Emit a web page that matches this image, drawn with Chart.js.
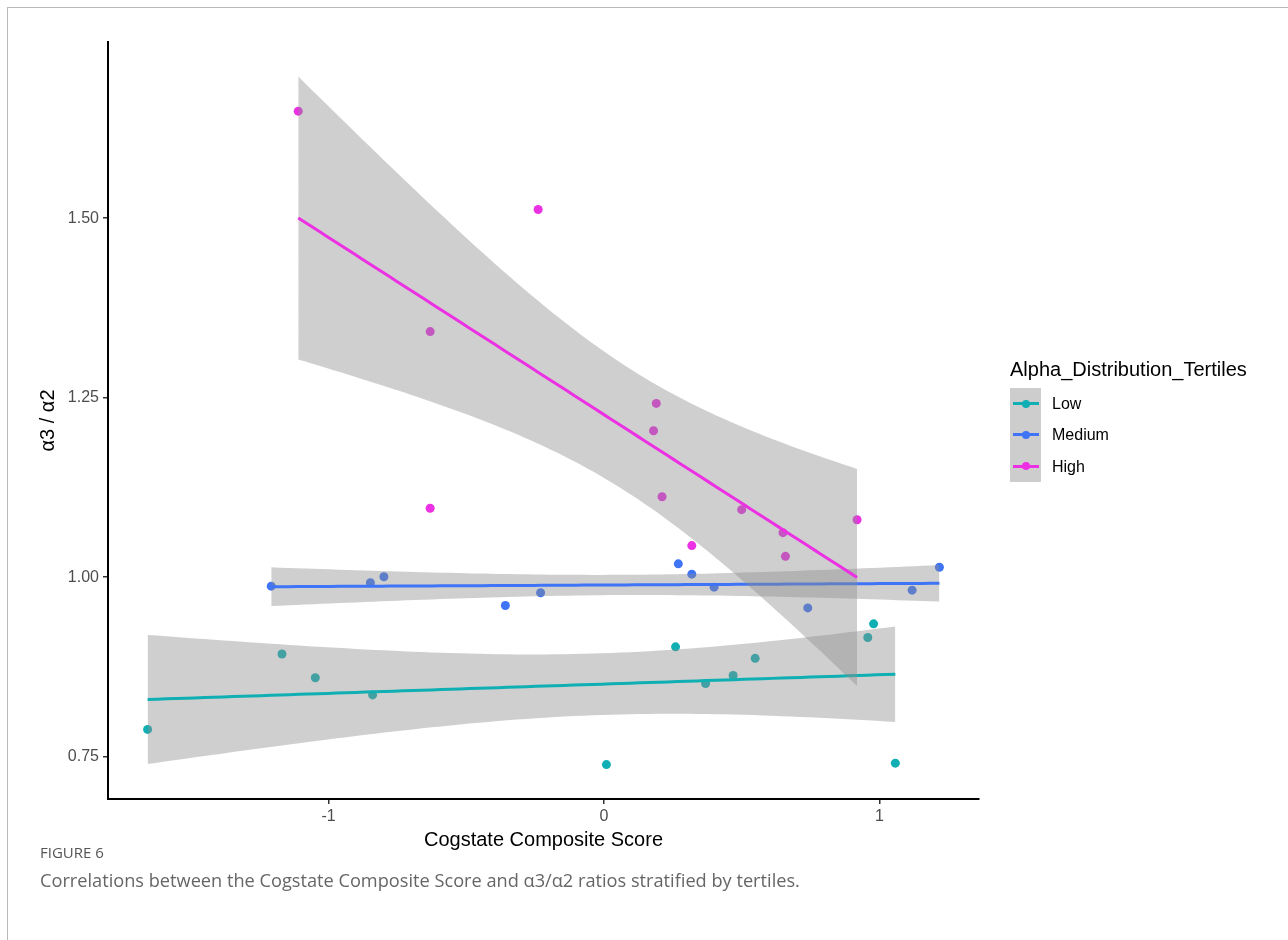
<!DOCTYPE html>
<html>
<head>
<meta charset="utf-8">
<script src="https://cdn.jsdelivr.net/npm/chart.js@4.4.1/dist/chart.umd.min.js"></script>
<style>
  html, body { margin: 0; padding: 0; background: #fff; }
  #wrap { position: relative; width: 1288px; height: 940px; overflow: hidden; }
  #frame { position: absolute; left: 7px; top: 7px; right: -20px; bottom: -20px;
           border-left: 1px solid #b9b9b9; border-top: 1px solid #b9b9b9; }
  #chart { position: absolute; left: 0; top: 0; }
  #legend { position: absolute; left: 1010px; top: 357px; font-family: "Liberation Sans", Arial, sans-serif; color: #000; }
  #legend .title { font-size: 20px; line-height: 24px; white-space: nowrap; }
  #legend .keys { position: relative; margin-top: 7px; }
  #legend .row { position: relative; height: 31.3px; }
  #legend .key { position: absolute; left: 0; top: 0; width: 31px; height: 31.3px; background: #cdcdcd; }
  #legend .line { position: absolute; left: 3px; top: 14px; width: 26px; height: 3px; }
  #legend .dot { position: absolute; left: 11.5px; top: 11.5px; width: 8px; height: 8px; border-radius: 50%; }
  #legend .label { position: absolute; left: 42px; top: 0; line-height: 31.3px; font-size: 16px; white-space: nowrap; }
  #fig-label { position: absolute; left: 40px; top: 842px; font-family: "Open Sans", Lato, sans-serif;
               font-size: 15px; line-height: 20px; color: #555; }
  #fig-caption { position: absolute; left: 40px; top: 867px; font-family: "Open Sans", Lato, sans-serif;
                 font-size: 18.2px; line-height: 26px; color: #666; white-space: nowrap; }
</style>
</head>
<body>
<div id="wrap">
  <div id="frame"></div>
  <canvas id="chart" width="1288" height="940"></canvas>
  <div id="legend"></div>
  <div id="fig-label">FIGURE 6</div>
  <div id="fig-caption">Correlations between the Cogstate Composite Score and α3/α2 ratios stratified by tertiles.</div>
</div>
<script>
// Cogstate composite score (x) and alpha3/alpha2 ratio (y), one pair of arrays per tertile
const GROUPS = ['Low', 'Medium', 'High'];

const LOW_X = [-1.657, -1.169, -1.048, -0.840, 0.009, 0.260, 0.369, 0.469, 0.549, 0.958, 0.979, 1.058];
const LOW_Y = [0.788, 0.893, 0.860, 0.836, 0.739, 0.903, 0.852, 0.863, 0.887, 0.916, 0.935, 0.741];

const MEDIUM_X = [-1.208, -0.848, -0.799, -0.358, -0.230, 0.270, 0.319, 0.400, 0.740, 1.119, 1.218];
const MEDIUM_Y = [0.9875, 0.9922, 1.0006, 0.9606, 0.9783, 1.0186, 1.0042, 0.9861, 0.9572, 0.9819, 1.0139];

const HIGH_X = [-1.110, -0.239, -0.631, -0.631, 0.190, 0.180, 0.211, 0.319, 0.500, 0.650, 0.659, 0.919];
const HIGH_Y = [1.649, 1.512, 1.342, 1.096, 1.242, 1.204, 1.112, 1.044, 1.094, 1.062, 1.029, 1.080];

const X_TICKS = [-1, 0, 1];
const Y_TICKS = [0.75, 1.00, 1.25, 1.50];

const X_TITLE = 'Cogstate Composite Score';
const Y_TITLE = 'α3 / α2';
const LEGEND_TITLE = 'Alpha_Distribution_Tertiles';

const SERIES = {
  Low:    { xs: LOW_X,    ys: LOW_Y,    color: '#0fafb3' },
  Medium: { xs: MEDIUM_X, ys: MEDIUM_Y, color: '#3f74f7' },
  High:   { xs: HIGH_X,   ys: HIGH_Y,   color: '#ec30e3' }
};

const FONT = '"Liberation Sans", Arial, sans-serif';
const BAND_FILL = 'rgba(140,140,140,0.42)';

// two-sided 95% Student t critical values
const T975 = [NaN, 12.706, 4.303, 3.182, 2.776, 2.571, 2.447, 2.365, 2.306, 2.262, 2.228,
              2.201, 2.179, 2.160, 2.145, 2.131, 2.120, 2.110, 2.101, 2.093, 2.086];
const tCrit = df => (df < T975.length ? T975[df] : 1.96);

// ordinary least squares fit with a 95% confidence band for the mean
function lmFit(xs, ys, steps = 80) {
  const n = xs.length;
  const mx = xs.reduce((a, b) => a + b, 0) / n;
  const my = ys.reduce((a, b) => a + b, 0) / n;
  let sxx = 0, sxy = 0;
  for (let i = 0; i < n; i++) { sxx += (xs[i] - mx) ** 2; sxy += (xs[i] - mx) * (ys[i] - my); }
  const b = sxy / sxx, a = my - b * mx;
  let sse = 0;
  for (let i = 0; i < n; i++) sse += (ys[i] - (a + b * xs[i])) ** 2;
  const s = Math.sqrt(sse / (n - 2));
  const t = tCrit(n - 2);
  const lo = Math.min(...xs), hi = Math.max(...xs);
  const fit = [], upper = [], lower = [];
  for (let i = 0; i < steps; i++) {
    const x = lo + (hi - lo) * i / (steps - 1);
    const yh = a + b * x;
    const se = s * Math.sqrt(1 / n + (x - mx) ** 2 / sxx);
    fit.push({ x, y: yh });
    upper.push({ x, y: yh + t * se });
    lower.push({ x, y: yh - t * se });
  }
  return { fit, upper, lower };
}

const fits = {};
GROUPS.forEach(g => { fits[g] = lmFit(SERIES[g].xs, SERIES[g].ys); });

// axis limits: data and bands, padded by 5% on each side
function paddedRange(values) {
  const lo = Math.min(...values), hi = Math.max(...values);
  const pad = (hi - lo) * 0.05;
  return [lo - pad, hi + pad];
}
const allX = [].concat(...GROUPS.map(g => SERIES[g].xs));
const allY = [].concat(...GROUPS.map(g => SERIES[g].ys),
                       ...GROUPS.map(g => fits[g].upper.map(p => p.y)),
                       ...GROUPS.map(g => fits[g].lower.map(p => p.y)));
const [xMin, xMax] = paddedRange(allX);
const [yMin, yMax] = paddedRange(allY);

// datasets: points at the back, then band + line per group (Low, Medium, High)
const datasets = [];
let order = 100;
GROUPS.forEach(g => {
  datasets.push({
    label: g,
    data: SERIES[g].xs.map((x, i) => ({ x, y: SERIES[g].ys[i] })),
    pointRadius: 4.5,
    pointHoverRadius: 4.5,
    pointBackgroundColor: SERIES[g].color,
    pointBorderWidth: 0,
    showLine: false,
    order: order
  });
});
order = 50;
GROUPS.forEach(g => {
  const f = fits[g];
  datasets.push({
    label: g + ' band',
    data: f.upper,
    showLine: true,
    borderColor: 'rgba(0,0,0,0)',
    borderWidth: 1,
    pointRadius: 0,
    backgroundColor: BAND_FILL,
    fill: '+1',
    order: order--
  });
  datasets.push({
    label: g + ' band lower',
    data: f.lower,
    showLine: true,
    borderColor: 'rgba(0,0,0,0)',
    borderWidth: 1,
    pointRadius: 0,
    fill: false,
    order: order--
  });
  datasets.push({
    label: g + ' fit',
    data: f.fit,
    showLine: true,
    borderColor: SERIES[g].color,
    borderWidth: 3,
    pointRadius: 0,
    fill: false,
    tension: 0,
    order: order--
  });
});

new Chart(document.getElementById('chart'), {
  type: 'scatter',
  data: { datasets },
  options: {
    responsive: false,
    animation: false,
    events: [],
    layout: { padding: { left: 0, right: 309, top: 42, bottom: 80 } },
    plugins: { legend: { display: false }, tooltip: { enabled: false } },
    scales: {
      x: {
        type: 'linear',
        min: xMin, max: xMax,
        afterBuildTicks: s => { s.ticks = X_TICKS.map(v => ({ value: v })); },
        afterFit: s => { s.height = 61; },
        ticks: {
          callback: v => String(v),
          font: { family: FONT, size: 16 }, color: '#4d4d4d',
          padding: 3, maxRotation: 0, autoSkip: false
        },
        grid: { display: true, drawOnChartArea: false, drawTicks: true, tickLength: 5, color: '#333', lineWidth: 1.5 },
        border: { display: true, color: '#000', width: 2 },
        title: { display: true, text: X_TITLE, color: '#000', font: { family: FONT, size: 20 }, padding: { top: 0, bottom: 8 } }
      },
      y: {
        type: 'linear',
        min: yMin, max: yMax,
        afterBuildTicks: s => { s.ticks = Y_TICKS.map(v => ({ value: v })); },
        afterFit: s => { s.width = 108; },
        ticks: {
          callback: v => Number(v).toFixed(2),
          font: { family: FONT, size: 16 }, color: '#4d4d4d',
          padding: 4, autoSkip: false
        },
        grid: { display: true, drawOnChartArea: false, drawTicks: true, tickLength: 5, color: '#333', lineWidth: 1.5 },
        border: { display: true, color: '#000', width: 2 },
        title: { display: true, text: Y_TITLE, color: '#000', font: { family: FONT, size: 20 }, padding: { top: 36, bottom: 0 } }
      }
    }
  }
});

// legend
const legend = document.getElementById('legend');
const title = document.createElement('div');
title.className = 'title';
title.textContent = LEGEND_TITLE;
legend.appendChild(title);
const keys = document.createElement('div');
keys.className = 'keys';
GROUPS.forEach(g => {
  const row = document.createElement('div');
  row.className = 'row';
  row.innerHTML = '<div class="key"><div class="line"></div><div class="dot"></div></div><div class="label"></div>';
  row.querySelector('.line').style.background = SERIES[g].color;
  row.querySelector('.dot').style.background = SERIES[g].color;
  row.querySelector('.label').textContent = g;
  keys.appendChild(row);
});
legend.appendChild(keys);
</script>
</body>
</html>
